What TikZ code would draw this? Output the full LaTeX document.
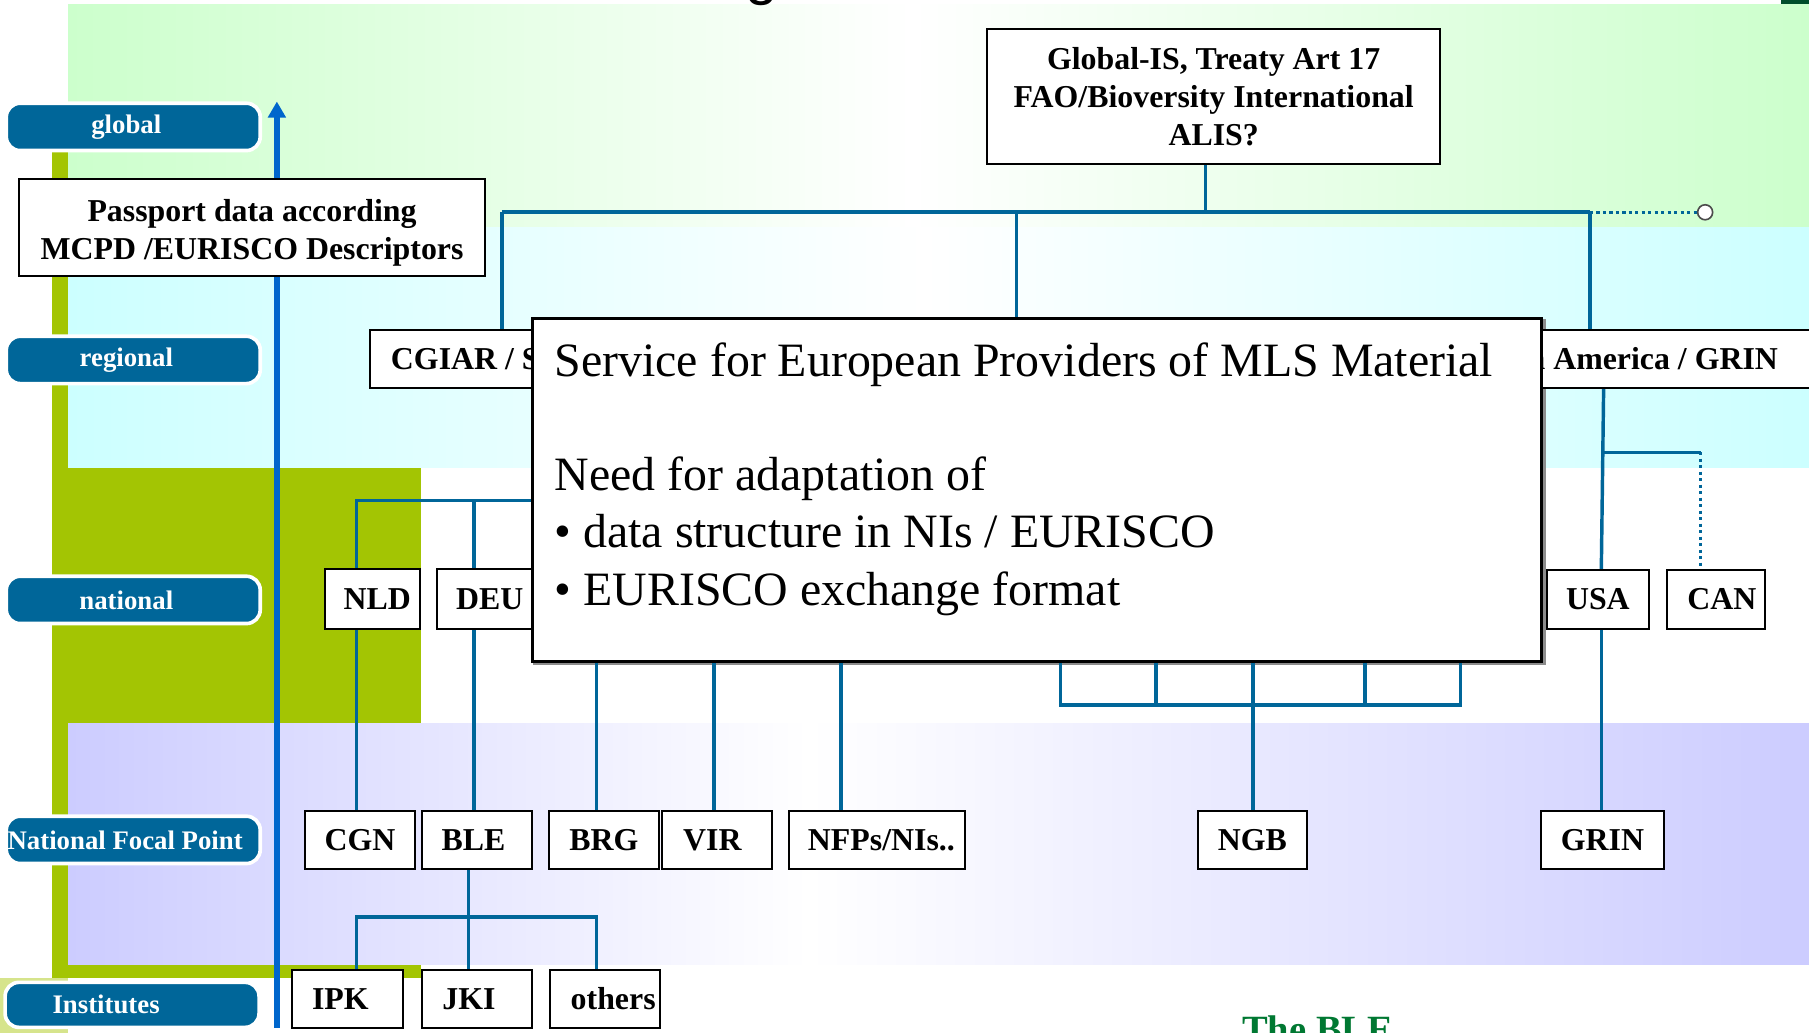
\documentclass[tikz,border=0pt]{standalone}
\usepackage{fontspec}
\setmainfont{Liberation Serif}
\newfontfamily\titlesans{Liberation Sans}
\usetikzlibrary{calc,arrows.meta}
\definecolor{lblue}{RGB}{0,102,153}
\definecolor{connc}{RGB}{0,102,153}
\definecolor{arrblue}{RGB}{0,102,204}
\definecolor{oliveg}{RGB}{163,197,3}
\definecolor{paleolive}{RGB}{214,228,140}
\definecolor{bandgreen}{RGB}{204,255,204}
\definecolor{bandcyan}{RGB}{204,255,255}
\definecolor{bandlav}{RGB}{204,204,255}
\definecolor{dkgreen}{RGB}{0,77,43}
\definecolor{blegreen}{RGB}{0,120,50}
\pgfdeclarelayer{bg}
\pgfdeclarelayer{lines}
\pgfsetlayers{bg,lines,main}
\tikzset{
  lvl/.style={fill=lblue, draw=white, line width=0.9pt, rounded corners=1.2mm,
    minimum width=2.2cm, minimum height=0.41cm, inner sep=0pt, text=white,
    font=\fontsize{6.6}{7.9}\selectfont\bfseries},
  box/.style={draw=black, fill=white, line width=0.5pt, inner sep=0pt,
    font=\fontsize{7.85}{9.4}\selectfont\bfseries, align=center},
  conn/.style={draw=connc, line width=0.85pt},
  dotconn/.style={conn, dash pattern=on 0.8pt off 0.8pt},
  svtext/.style={anchor=base west, inner sep=0pt, font=\fontsize{11.8}{14.2}\selectfont},
}
\begin{document}
\begin{tikzpicture}[x=0.01cm, y=-0.01cm]
\useasboundingbox (0,0) rectangle (1568,895);
\clip (0,0) rectangle (1568,895);

% ---------- coordinates ----------
\coordinate (arrbot) at (240,891);
\coordinate (arrtop) at (240,88);
\coordinate (busL) at (435,184);
\coordinate (busR) at (1378,184);
\coordinate (gx) at (1045,0);
\coordinate (sx) at (881,0);
\coordinate (nb) at (309,434);
\coordinate (dx) at (411,0);
\coordinate (v1) at (517,0);
\coordinate (v2) at (619,0);
\coordinate (v3) at (729,0);
\coordinate (bk1) at (919,611);
\coordinate (bk2) at (1002,611);
\coordinate (bk3) at (1086,611);
\coordinate (bk4) at (1183,611);
\coordinate (bk5) at (1266,611);
\coordinate (ua) at (1390,0);
\coordinate (ub) at (1388,0);
\coordinate (canbr) at (1474,392);
\coordinate (ib) at (406,795);

% ---------- level labels ----------
\node[lvl] (lglobal) at (115.5,110) {global\kern0.12cm};
\node[lvl] (lregional) at (115.5,312) {regional\kern0.12cm};
\node[lvl] (lnational) at (115.5,520) {national\kern0.12cm};
\node[lvl] (lnfp) at (115.5,728) {National Focal Point\kern0.14cm};
\node[lvl, minimum height=0.39cm] (linst) at (114.5,871) {Institutes\kern0.45cm};

% ---------- boxes ----------
\node[box, minimum width=4.03cm, minimum height=0.84cm] (passport) at (218.5,197)
  {\rule{0pt}{8.4pt}Passport data according\\MCPD /EURISCO Descriptors};
\node[box, minimum width=3.92cm, minimum height=1.17cm] (globalis) at (1052,84)
  {Global-IS, Treaty Art 17\\FAO/Bioversity International\\ALIS?};
\node[box, minimum width=2.55cm, minimum height=0.50cm, align=left, anchor=west, inner xsep=0.18cm] (cgiar) at (320,311) {CGIAR / S\hspace*{1.1cm}};
\node[box, minimum width=3.30cm, minimum height=0.50cm] (america) at (1405,311) {North America / GRIN};
\node[box, minimum width=0.82cm, minimum height=0.52cm] (nld) at (323,519) {\kern0.08cm NLD};
\node[box, minimum width=0.91cm, minimum height=0.52cm] (deu) at (424.5,519) {DEU};
\node[box, minimum width=0.88cm, minimum height=0.51cm] (usa) at (1385,519.5) {USA};
\node[box, minimum width=0.85cm, minimum height=0.51cm] (can) at (1487.5,519.5) {\kern0.1cm CAN};
\node[box, minimum width=0.96cm, minimum height=0.50cm] (cgn) at (312,728) {CGN};
\node[box, minimum width=0.95cm, minimum height=0.50cm] (ble) at (413.5,728) {BLE\kern0.06cm};
\node[box, minimum width=0.95cm, minimum height=0.50cm] (brg) at (523.5,728) {BRG};
\node[box, minimum width=0.95cm, minimum height=0.50cm] (vir) at (621.5,728) {VIR\kern0.08cm};
\node[box, minimum width=1.52cm, minimum height=0.50cm] (nfps) at (760,728) {\kern0.08cm NFPs/NIs..};
\node[box, minimum width=0.94cm, minimum height=0.50cm] (ngb) at (1085.5,728) {NGB};
\node[box, minimum width=1.06cm, minimum height=0.50cm] (grin) at (1389,728) {GRIN};
\node[box, minimum width=0.96cm, minimum height=0.50cm] (ipk) at (301,866) {IPK\kern0.12cm};
\node[box, minimum width=0.95cm, minimum height=0.50cm] (jki) at (413.5,866) {JKI\kern0.14cm};
\node[box, minimum width=0.95cm, minimum height=0.50cm] (others) at (524.5,866) {\kern0.14cm others};

\node[draw=black, fill=white, line width=0.8pt, minimum width=8.74cm, minimum height=2.97cm, inner sep=0pt]
  (service) at (899,424.5) {};
\node[svtext] (sv1) at (480,326) {Service for European Providers of MLS Material};
\node[svtext] (sv2) at (480,425) {Need for adaptation of};
\node[svtext] (sv3) at (480,475) {•~data structure in NIs / EURISCO};
\node[svtext] (sv4) at (480,525) {•~EURISCO exchange format};

\node[circle, draw=black!70, fill=white, line width=0.4pt, minimum size=0.13cm, inner sep=0pt]
  (opencirc) at (1478,184) {};

\node[anchor=base west, inner sep=0pt, text=blegreen, font=\fontsize{9.5}{11}\selectfont\bfseries]
  (bletitle) at (1076,904) {The BLE};
\node[anchor=base, inner sep=0pt, font=\titlesans\fontsize{14.5}{17}\selectfont] (gfrag) at (660,-6) {g};

% ---------- connectors ----------
\begin{pgfonlayer}{lines}
\fill[black!45] ($(service.south west)+(2,2)$) rectangle ($(service.north east)+(2,2)$);
\draw[conn, line width=1pt] (busL) -- (busR);
\draw[conn] (cgiar.north -| busL) -- (busL);
\draw[conn] (globalis.south -| gx) -- (gx |- busL);
\draw[conn] (service.north -| sx) -- (sx |- busL);
\draw[conn] (america.north -| busR) -- (busR);
\draw[dotconn] (busR) -- (opencirc.west);
\draw[conn] (america.south -| ua) -- (usa.north -| ub);
\draw[conn] (ua |- canbr) -- (canbr);
\draw[dotconn] (canbr) -- (can.north -| canbr);
\draw[conn] (usa.south -| ub) -- (grin.north -| ub);
\draw[conn] (nld.north -| nb) -- (nb) -- (nb -| service.west);
\draw[conn] (deu.north -| dx) -- (dx |- nb);
\draw[conn] (nld.south -| nb) -- (cgn.north -| nb);
\draw[conn] (deu.south -| dx) -- (ble.north -| dx);
\draw[conn] (service.south -| v1) -- (brg.north -| v1);
\draw[conn] (service.south -| v2) -- (vir.north -| v2);
\draw[conn] (service.south -| v3) -- (nfps.north -| v3);
\draw[conn] (service.south -| bk1) -- (bk1) -- (bk5) -- (service.south -| bk5);
\draw[conn] (service.south -| bk2) -- (bk2);
\draw[conn] (service.south -| bk4) -- (bk4);
\draw[conn] (service.south -| bk3) -- (ngb.north -| bk3);
\draw[conn] (ble.south -| ib) -- (jki.north -| ib);
\draw[conn] (ipk.north -| nb) -- (nb |- ib) -- (v1 |- ib) -- (others.north -| v1);
\end{pgfonlayer}

% ---------- backgrounds ----------
\begin{pgfonlayer}{bg}
\fill[white] (0,0) rectangle (1568,895);
\fill[oliveg] (45,110) rectangle (59,405);
\fill[oliveg] (45,405) rectangle (365,848);
\fill[paleolive] (0,848) rectangle (59,895);
\shade[left color=bandgreen, right color=white] (59,3.5) rectangle (791,197);
\shade[left color=white, right color=bandgreen] (790,3.5) rectangle (1568,197);
\shade[left color=bandcyan, right color=white] (59,197) rectangle (801,405);
\shade[left color=white, right color=bandcyan] (800,197) rectangle (1568,405);
\shade[left color=bandlav, right color=white] (59,627) rectangle (701,836);
\shade[left color=white, right color=bandlav] (700,627) rectangle (1568,836);
\fill[dkgreen] (1544,0) rectangle (1568,3.5);
\draw[arrblue, line width=1.3pt, -{Triangle[width=4.3pt,length=4pt]}] (arrbot) -- (arrtop);
\end{pgfonlayer}
\end{tikzpicture}
\end{document}
